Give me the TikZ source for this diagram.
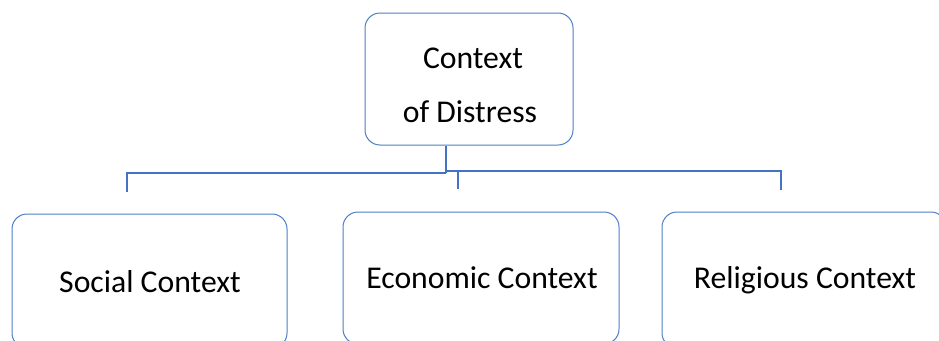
\documentclass[tikz,border=0pt]{standalone}
\usepackage{fontspec}
\setmainfont{Carlito}
\definecolor{boxblue}{HTML}{4F7FC8}
\definecolor{linkblue}{HTML}{4472C4}
\begin{document}
\begin{tikzpicture}[x=1pt,y=-1pt,
  box/.style={draw=boxblue, line width=1pt, rounded corners=15pt, inner sep=0pt},
  conn/.style={draw=linkblue, line width=1.1pt},
  lbl/.style={font=\fontsize{31.7}{38}\selectfont, text=black}]
\useasboundingbox (0,0) rectangle (939,340);
\clip (0,0) rectangle (939,340);
\fill[white] (0,0) rectangle (939,340);

% top box
\node[box, minimum width=208pt, minimum height=132pt] (top) at (469,79) {};
\node[lbl] (toptxt1) at (473,58) {Context};
\node[lbl] (toptxt2) at (470,112) {of Distress};

% child boxes
\node[box, minimum width=275pt, minimum height=134pt] (social) at (149.5,281) {};
\node[lbl] (socialtxt) at (150,282) {Social Context};
\node[box, minimum width=276pt, minimum height=132pt] (econ) at (481,278) {};
\node[lbl] (econtxt) at (482,278) {Economic Context};
\node[box, minimum width=284pt, minimum height=136pt] (relig) at (804,280) {};
\node[lbl] (religtxt) at (805,280) {Religious Context};

% bus coordinates
\coordinate (hub) at (446,173);
\coordinate (jog) at (458,171);
\coordinate (sdrop) at (127,192);
\coordinate (edrop) at (458,189);
\coordinate (rdrop) at (781,190);

% connectors
\draw[conn, line width=1.6pt] (top.south -| hub) -- (hub);
\draw[conn] (hub) -| (sdrop);
\draw[conn] (hub) |- (jog) -- (edrop);
\draw[conn] (jog) -| (rdrop);
\end{tikzpicture}
\end{document}
